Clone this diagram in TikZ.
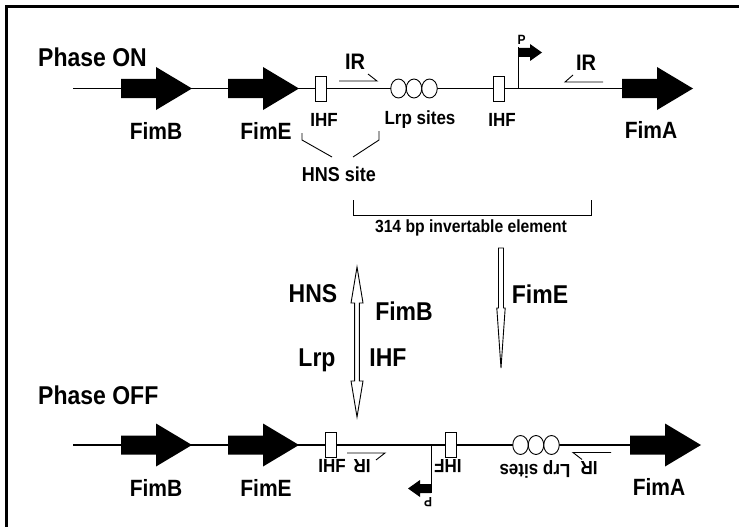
\documentclass[tikz,border=0pt]{standalone}
\usepackage{fontspec}
\setmainfont{Liberation Sans}
\usetikzlibrary{shapes.geometric}
\begin{document}
\begin{tikzpicture}[x=1pt,y=-1pt,
  lbl/.style={inner sep=0pt, yscale=1.12, font=\fontsize{#1}{#1}\selectfont\bfseries},
  dna/.style={line width=1.1pt},
  thin/.style={line width=0.9pt},
  ihfbox/.style={draw, fill=white, line width=0.9pt, minimum width=11pt, minimum height=25pt, inner sep=0pt},
  lrpsite/.style={ellipse, draw, fill=white, line width=0.9pt, minimum width=15.5pt, minimum height=19pt, inner sep=0pt},
  openarrow/.style={draw, fill=white, line width=0.9pt, line join=miter},
  genearrow/.pic={\fill (0,-9.5) -- (35,-9.5) -- (35,-21.5) -- (71,0) -- (35,21.5) -- (35,9.5) -- (0,9.5) -- cycle;},
]
\useasboundingbox (0,0) rectangle (739,527);

% frame
\draw[line width=2.6pt] (6.3,527) -- (6.3,6.3) -- (739,6.3);

% ---------------- Phase ON ----------------
\node[lbl=23, anchor=west] (phaseon) at (38,57) {Phase ON};
\coordinate (onL) at (73,88.5);
\coordinate (onR) at (622,88.5);
\draw[dna] (onL) -- (onR);
\pic (onB) at (121,88.5) {genearrow};
\pic (onE) at (228,88.5) {genearrow};
\pic (onA) at (622,88.5) {genearrow};
\node[lbl=21] (onBlbl) at (156,131) {FimB};
\node[lbl=21] (onElbl) at (266,131) {FimE};
\node[lbl=21] (onAlbl) at (651,130) {FimA};

\node[ihfbox] (onIHFa) at (320.5,88.5) {};
\node[ihfbox] (onIHFb) at (498.5,88.5) {};
\node[lrpsite] (onLrpa) at (398.5,88.5) {};
\node[lrpsite] (onLrpb) at (414,88.5) {};
\node[lrpsite] (onLrpc) at (429.5,88.5) {};
\node[lbl=17] (onIHFalbl) at (324,120) {IHF};
\node[lbl=17] (onLrplbl) at (420,120) {Lrp sites};
\node[lbl=17] (onIHFblbl) at (502,120) {IHF};

% inverted repeats
\draw[thin] (339,81) -- (377,81) -- (368,74);
\draw[thin] (603,82) -- (565,82) -- (573,75);
\node[lbl=20] (onIRa) at (355,62) {IR};
\node[lbl=20] (onIRb) at (586,63) {IR};

% promoter
\coordinate (onP) at (518,88.5);
\draw[thin] (onP) -- (518,47);
\fill (518,48) -- (530,48) -- (530,44) -- (542,52.5) -- (530,61) -- (530,57) -- (518,57) -- cycle;
\node[lbl=12] (onPlbl) at (521.5,40) {P};

% HNS site bracket
\draw[thin] (302,133) -- (302,140) -- (332,157);
\draw[thin] (379,131) -- (379,140) -- (353,157);
\node[lbl=18] (hns) at (339,174) {HNS site};

% invertible element bracket
\draw[thin] (353,200) -- (353,215) -- (591,215) -- (591,200);
\node[lbl=15.7] (invel) at (471,228) {314 bp invertable element};

% ---------------- switching ----------------
\draw[openarrow] (357,267) -- (363,303) -- (359.4,303) -- (359.4,381) -- (363,381) -- (357,417)
  -- (351,381) -- (354.6,381) -- (354.6,303) -- (351,303) -- cycle;
\draw[openarrow] (498.5,248) -- (503.5,248) -- (503.5,308) -- (505.2,308) -- (501,368)
  -- (496.8,308) -- (498.5,308) -- cycle;
\node[lbl=23] (mHNS) at (313,294) {HNS};
\node[lbl=23] (mFimB) at (404,311) {FimB};
\node[lbl=23] (mLrp) at (317,360) {Lrp};
\node[lbl=23] (mIHF) at (388,358) {IHF};
\node[lbl=23] (mFimE) at (540,294) {FimE};

% ---------------- Phase OFF ----------------
\node[lbl=23, anchor=west] (phaseoff) at (38,395) {Phase OFF};
\coordinate (offL) at (73,445);
\coordinate (offR) at (632,445);
\draw[dna] (offL) -- (offR);
\pic (offB) at (121,445) {genearrow};
\pic (offE) at (228,445) {genearrow};
\pic (offA) at (630,445) {genearrow};
\node[lbl=21] (offBlbl) at (156,488) {FimB};
\node[lbl=21] (offElbl) at (266,488) {FimE};
\node[lbl=21] (offAlbl) at (659,487) {FimA};

\node[ihfbox] (offIHFa) at (330.5,445) {};
\node[ihfbox] (offIHFb) at (451,445) {};
\node[lrpsite] (offLrpa) at (520.5,445) {};
\node[lrpsite] (offLrpb) at (536,445) {};
\node[lrpsite] (offLrpc) at (551.5,445) {};

\draw[thin] (347,453) -- (385,453) -- (376,460);
\draw[thin] (611,452.5) -- (573,452.5) -- (582,459.5);

\coordinate (offP) at (431,445);
\draw[thin] (offP) -- (431,493);
\fill (431,493) -- (420,493) -- (420,497) -- (408,488.5) -- (420,480) -- (420,484) -- (431,484) -- cycle;
\node[lbl=12, rotate=180] (offPlbl) at (428,502) {P};

\node[lbl=17] (offIHFalbl) at (332,466) {IHF};
\node[lbl=17, rotate=180] (offIRa) at (362,466) {IR};
\node[lbl=17, rotate=180] (offIHFblbl) at (448,466) {IHF};
\node[lbl=17, rotate=180] (offLrplbl) at (535,469) {Lrp sites};
\node[lbl=17, rotate=180] (offIRb) at (589,468) {IR};
\end{tikzpicture}
\end{document}
